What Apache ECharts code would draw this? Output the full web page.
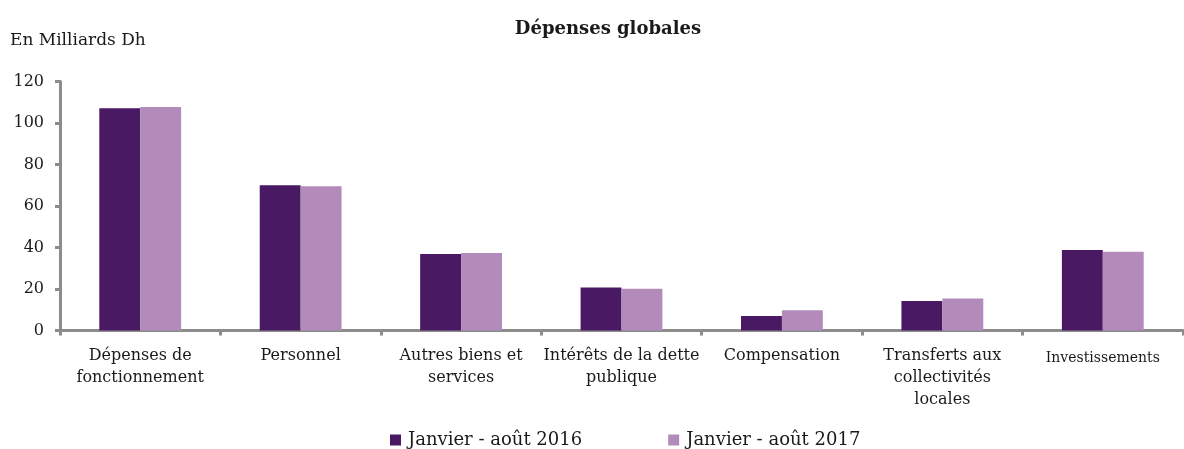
<!DOCTYPE html>
<html>
<head>
<meta charset="utf-8">
<script src="https://cdn.jsdelivr.net/npm/echarts@6/dist/echarts.min.js"></script>
<style>
  html, body { margin: 0; padding: 0; background: #fff; }
  #chart { width: 1184px; height: 449px; }
</style>
</head>
<body>
<div id="chart"></div>
<script>
// données (milliards de Dh)
var categories = ['Dépenses de\nfonctionnement', 'Personnel', 'Autres biens et\nservices',
    'Intérêts de la dette\npublique', 'Compensation', 'Transferts aux\ncollectivités\nlocales',
    'Investissements'];
var seriesNames = ['Janvier - août 2016', 'Janvier - août 2017'];
var val2016 = [107.1, 70.0, 36.9, 20.7, 7.0, 14.2, 38.8];
var val2017 = [107.7, 69.5, 37.3, 20.1, 9.7, 15.4, 38.0];
var yTicks = [0, 20, 40, 60, 80, 100, 120];

var serif = '"DejaVu Serif", "Liberation Serif", serif';
var axisGray = '#8c8c8c';

var dom = document.getElementById('chart');
var myChart = echarts.init(dom, null, {renderer: 'canvas'});
var option = {
    animation: false,
    textStyle: {fontFamily: serif, color: '#1a1a1a'},
    title: [
        {
            text: 'Dépenses globales',
            left: 608, top: 20, textAlign: 'center', padding: 0,
            textStyle: {fontFamily: serif, fontSize: 18, fontWeight: 'bold', color: '#1a1a1a'}
        },
        {
            text: 'En Milliards Dh',
            left: 10, top: 32, padding: 0,
            textStyle: {fontFamily: serif, fontSize: 17, fontWeight: 'normal', color: '#1a1a1a'}
        }
    ],
    legend: {
        data: seriesNames,
        top: 426, left: 385,
        itemWidth: 11, itemHeight: 11, itemGap: 86,
        icon: 'rect',
        textStyle: {fontFamily: serif, fontSize: 18, color: '#1a1a1a', padding: [0, 0, 0, 2]}
    },
    grid: {left: 60, right: 1, top: 81.5, bottom: 118.5, containLabel: false},
    xAxis: {
        type: 'category',
        data: categories,
        axisLine: {lineStyle: {color: axisGray, width: 3}},
        axisTick: {show: true, length: 5, lineStyle: {color: axisGray, width: 3}},
        axisLabel: {
            fontFamily: serif, fontSize: 16, color: '#1a1a1a', lineHeight: 22, margin: 14,
            interval: 0,
            formatter: function (v) {
                if (v === 'Investissements') return '{s|' + v + '}';
                return v;
            },
            rich: {s: {fontFamily: serif, fontSize: 14, color: '#1a1a1a', padding: [6, 0, 0, 0]}}
        }
    },
    yAxis: {
        type: 'value',
        min: yTicks[0], max: yTicks[yTicks.length - 1], interval: 20,
        axisLine: {show: true, lineStyle: {color: axisGray, width: 3}},
        axisTick: {show: true, length: 5, lineStyle: {color: axisGray, width: 3}},
        splitLine: {show: false},
        axisLabel: {fontFamily: serif, fontSize: 16, color: '#1a1a1a', margin: 16}
    },
    series: [
        {
            name: seriesNames[0], type: 'bar', data: val2016,
            barGap: '0%', barCategoryGap: '49%',
            itemStyle: {color: '#4a1963'}
        },
        {
            name: seriesNames[1], type: 'bar', data: val2017,
            itemStyle: {color: '#b28bbb'}
        }
    ]
};
myChart.setOption(option, true);
</script>
</body>
</html>
